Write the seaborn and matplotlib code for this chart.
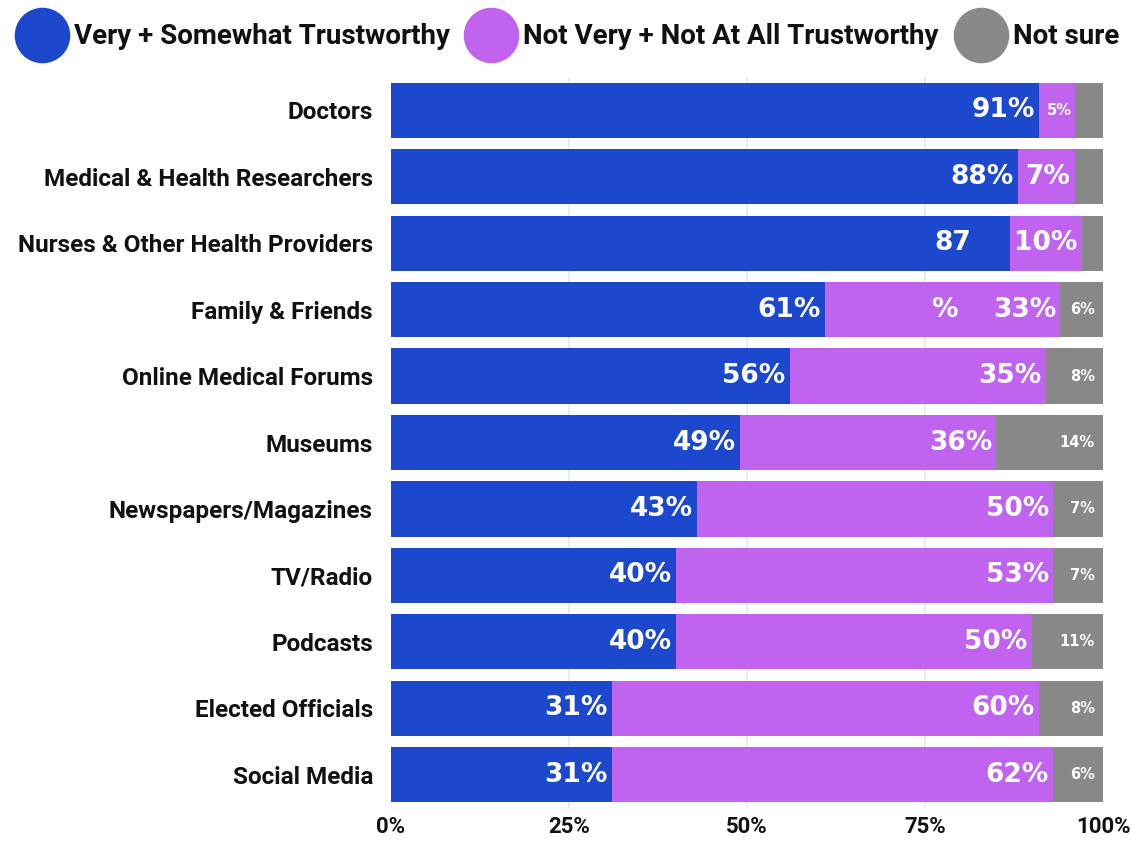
import matplotlib
matplotlib.use("Agg")
import matplotlib.pyplot as plt
import seaborn as sns
import pandas as pd
from matplotlib.lines import Line2D

categories = ["Doctors", "Medical & Health Researchers", "Nurses & Other Health Providers",
              "Family & Friends", "Online Medical Forums", "Museums", "Newspapers/Magazines",
              "TV/Radio", "Podcasts", "Elected Officials", "Social Media"]
trust = [91, 88, 87, 61, 56, 49, 43, 40, 40, 31, 31]
distrust = [5, 8, 10, 33, 36, 36, 50, 53, 50, 60, 62]
unsure = [4, 4, 3, 6, 8, 15, 7, 7, 10, 9, 7]
trust_labels = ["91%", "88%", "87", "61%", "56%", "49%", "43%", "40%", "40%", "31%", "31%"]
distrust_labels = ["5%", "7%", "10%", "33%", "35%", "36%", "50%", "53%", "50%", "60%", "62%"]
unsure_labels = ["", "", "", "6%", "8%", "14%", "7%", "7%", "11%", "8%", "6%"]
series_names = ["Very + Somewhat Trustworthy", "Not Very + Not At All Trustworthy", "Not sure"]
xticks = [0, 25, 50, 75, 100]

BLUE, PURPLE, GRAY = "#1B48CC", "#C064F0", "#888888"
INK = "#111111"

df = pd.DataFrame({"cat": categories, "t": trust, "d": distrust, "u": unsure})
df["td"] = df["t"] + df["d"]
df["tdu"] = df["td"] + df["u"]

sns.set_theme(style="white")
plt.rcParams["font.family"] = ["Roboto", "DejaVu Sans"]
plt.rcParams["text.color"] = INK
plt.rcParams["xtick.color"] = INK
plt.rcParams["ytick.color"] = INK

fig = plt.figure(figsize=(11.33, 8.42), dpi=100)
ax = fig.add_axes([391/1133, 1 - 808/842, 712/1133, (808-77)/842])

for col, colr in [("tdu", GRAY), ("td", PURPLE), ("t", BLUE)]:
    sns.barplot(data=df, x=col, y="cat", orient="h", color=colr, width=0.83,
                saturation=1, ax=ax, zorder=3, linewidth=0)

ax.set_xlim(0, 100)
ax.set_ylim(len(categories) - 0.5, -0.5)
ax.set_xlabel("")
ax.set_ylabel("")
ax.set_xticks(xticks)
ax.set_xticklabels([f"{v}%" for v in xticks], fontsize=16, fontweight="bold", color=INK)
ax.tick_params(axis="x", length=0, pad=6)
ax.tick_params(axis="y", length=0, pad=13, labelsize=17.5)
for lbl in ax.get_yticklabels():
    lbl.set_fontweight("bold")
    lbl.set_color(INK)
for s in ax.spines.values():
    s.set_visible(False)
for xv in xticks[1:-1]:
    ax.axvline(xv, color="#e6e6e6", lw=1.2, zorder=0)

lab_font = ["DejaVu Sans"]
for i in range(len(categories)):
    tl = trust_labels[i]
    off = -3 if tl.endswith("%") else -28
    ax.annotate(tl, (trust[i], i), xytext=(off, 0), textcoords="offset points",
                ha="right", va="center", color="white", fontsize=19, fontweight="bold",
                family=lab_font, zorder=5)
    dl = distrust_labels[i]
    big = distrust[i] >= 7
    ax.annotate(dl, (trust[i] + distrust[i], i), xytext=(-3 if big else -2, 0),
                textcoords="offset points", ha="right", va="center", color="white",
                fontsize=19 if big else 10.5, fontweight="bold", family=lab_font, zorder=5)
    ul = unsure_labels[i]
    if ul:
        ax.annotate(ul, (100, i), xytext=(-6, 0), textcoords="offset points",
                    ha="right", va="center", color="white", fontsize=10.5,
                    fontweight="bold", family=lab_font, zorder=5)

# stray label in the reference
ax.annotate("%", (79.6, 3), ha="right", va="center", color="white", fontsize=19,
            fontweight="bold", family=lab_font, zorder=5)

handles = [Line2D([], [], marker="o", linestyle="", markersize=39, markerfacecolor=c,
                  markeredgecolor=c) for c in (BLUE, PURPLE, GRAY)]
fig.legend(handles, series_names, loc="center", bbox_to_anchor=(0.5, 1 - 37/842),
           ncol=3, frameon=False, handletextpad=0.15, columnspacing=0.5,
           prop={"family": "Roboto", "weight": "bold", "size": 20})

fig.savefig("out.png", dpi=100)
